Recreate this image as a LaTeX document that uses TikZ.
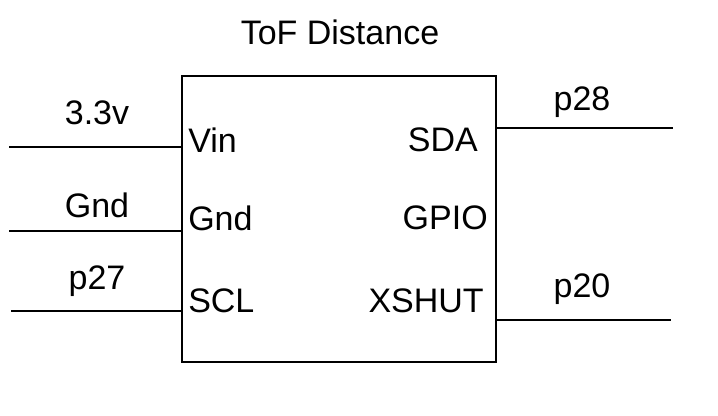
\documentclass[tikz,border=0pt]{standalone}
\usepackage{fontspec}
\setmainfont{Liberation Sans}
\begin{document}
\begin{tikzpicture}[x=0.75pt,y=0.75pt,yscale=-1,xscale=1]
\tikzset{lbl/.style={inner sep=0.75pt,font=\fontsize{25.5}{30}\selectfont},wire/.style={line width=1.5pt}}
\useasboundingbox (0,0) rectangle (718,416);

%Shape: Rectangle
\node (chip) [draw,line width=1.5pt,outer sep=0pt,minimum width=314pt*0.75,minimum height=286pt*0.75,anchor=north west,inner sep=0pt] at (182,76) {};

%Wire ends
\coordinate (vinA) at (9,147);
\coordinate (vinB) at (182,147);
\coordinate (gndA) at (9,231);
\coordinate (gndB) at (182,231);
\coordinate (sclA) at (11,311);
\coordinate (sclB) at (182,311);
\coordinate (sdaA) at (497,128);
\coordinate (sdaB) at (673,128);
\coordinate (xshA) at (496,320);
\coordinate (xshB) at (671,320);

%Straight Lines
\draw [wire] (vinA) -- (vinB);
\draw [wire] (gndA) -- (gndB);
\draw [wire] (sclA) -- (sclB);
\draw [wire] (sdaA) -- (sdaB);
\draw [wire] (xshA) -- (xshB);

% Text Node
\node (title) [lbl] at (340,32) {ToF Distance};
\node (tvin) [lbl] at (97,113) {3.3v};
\node (tgnd) [lbl] at (97,205) {Gnd};
\node (tscl) [lbl] at (97,281) {p27};
\node (tsda) [lbl] at (582,102) {p28};
\node (txsh) [lbl] at (582,289) {p20};
\node (pvin) [lbl,anchor=west] at (187,140) {Vin};
\node (pgnd) [lbl,anchor=west] at (187,218) {Gnd};
\node (pscl) [lbl,anchor=west] at (187,301) {SCL};
\node (psda) [lbl,anchor=east] at (479,140) {SDA};
\node (pgpio) [lbl,anchor=east] at (489,218) {GPIO};
\node (pxsh) [lbl,anchor=east] at (485,301) {XSHUT};
\end{tikzpicture}
\end{document}
